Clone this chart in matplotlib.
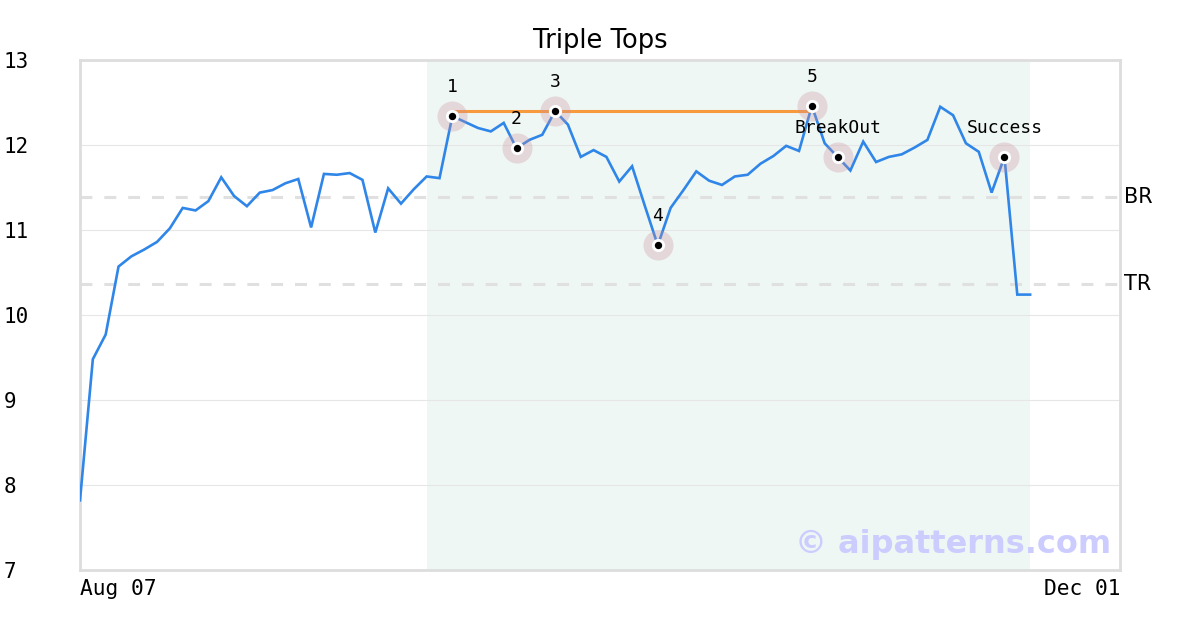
import matplotlib
matplotlib.use("Agg")
import matplotlib.pyplot as plt
import numpy as np

# ---- data ----
prices = [7.82, 9.48, 9.77, 10.57, 10.69, 10.77, 10.86, 11.02, 11.26, 11.23,
          11.34, 11.62, 11.40, 11.28, 11.44, 11.47, 11.55, 11.60, 11.03, 11.66,
          11.65, 11.67, 11.59, 10.97, 11.49, 11.31, 11.48, 11.63, 11.61, 12.34,
          12.27, 12.20, 12.16, 12.26, 11.96, 12.06, 12.12, 12.40, 12.24, 11.86,
          11.94, 11.86, 11.57, 11.75, 11.28, 10.82, 11.26, 11.47, 11.69, 11.58,
          11.53, 11.63, 11.65, 11.78, 11.87, 11.99, 11.93, 12.46, 12.02, 11.86,
          11.70, 12.04, 11.80, 11.86, 11.89, 11.97, 12.06, 12.45, 12.35, 12.02,
          11.92, 11.44, 11.86, 10.24, 10.24]
point_idx = [29, 34, 37, 45, 57, 59, 72]
point_labels = ["1", "2", "3", "4", "5", "BreakOut", "Success"]
top_level = 12.40
top_span = [29, 57]
pattern_span = [27, 74]
br_level = 11.39
tr_level = 10.365
x_max = 81
x_tick_labels = ["Aug 07", "Dec 01"]
y_ticks = [7, 8, 9, 10, 11, 12, 13]

fig = plt.figure(figsize=(12, 6.3), dpi=100)
ax = fig.add_axes([80/1200, 1-570/630, 1040/1200, 510/630])
ax.set_xlim(0, x_max)
ax.set_ylim(7, 13)

x = np.arange(len(prices))

ax.axvspan(pattern_span[0], pattern_span[1], color="#eff7f4", zorder=0, lw=0)
for yv in y_ticks[1:-1]:
    ax.axhline(yv, color="#e6e6e6", lw=0.8, zorder=1)
for lvl in (br_level, tr_level):
    ax.axhline(lvl, color="#e0e0e0", lw=2.2, dashes=(3.9, 3.9), zorder=1)

ax.plot(x, prices, color="#2f86e8", lw=1.9, zorder=3, solid_joinstyle="miter")
ax.plot(top_span, [top_level, top_level], color="#f79a3e", lw=2.2, zorder=3)

px = [x[i] for i in point_idx]
py = [prices[i] for i in point_idx]
ax.scatter(px, py, s=470, color="#c98f9f", alpha=0.3, lw=0, zorder=4)
ax.scatter(px, py, s=90, color="white", lw=0, zorder=5)
ax.scatter(px, py, s=28, color="black", lw=0, zorder=6)
for xi, yi, lab in zip(px, py, point_labels):
    ax.annotate(lab, (xi, yi), xytext=(0, 21), textcoords="offset points",
                ha="center", va="center", fontsize=13,
                family="DejaVu Sans Mono", zorder=7)

for sp in ax.spines.values():
    sp.set_color("#dddddd")
    sp.set_linewidth(2)

ax.set_yticks(y_ticks)
ax.set_yticklabels([str(v) for v in y_ticks], family="DejaVu Sans Mono", fontsize=15)
for t in ax.get_yticklabels():
    t.set_ha("left")
ax.tick_params(axis="y", length=0, pad=55)
ax.set_xticks([0, x_max])
ax.set_xticklabels(x_tick_labels, family="DejaVu Sans Mono", fontsize=15.3)
xt = ax.get_xticklabels()
xt[0].set_ha("left")
xt[1].set_ha("right")
ax.tick_params(axis="x", length=0, pad=6.5)

ax.text(1.004, br_level, "BR", transform=ax.get_yaxis_transform(),
        ha="left", va="center", fontsize=15)
ax.text(1.004, tr_level, "TR", transform=ax.get_yaxis_transform(),
        ha="left", va="center", fontsize=15)

ax.set_title("Triple Tops", fontsize=18.5, pad=9)

ax.text(0.991, 0.05, "© aipatterns.com", transform=ax.transAxes,
        ha="right", va="center", fontsize=23, fontweight="bold",
        color="#ccccff", zorder=8)

fig.savefig("out.png", dpi=100)
